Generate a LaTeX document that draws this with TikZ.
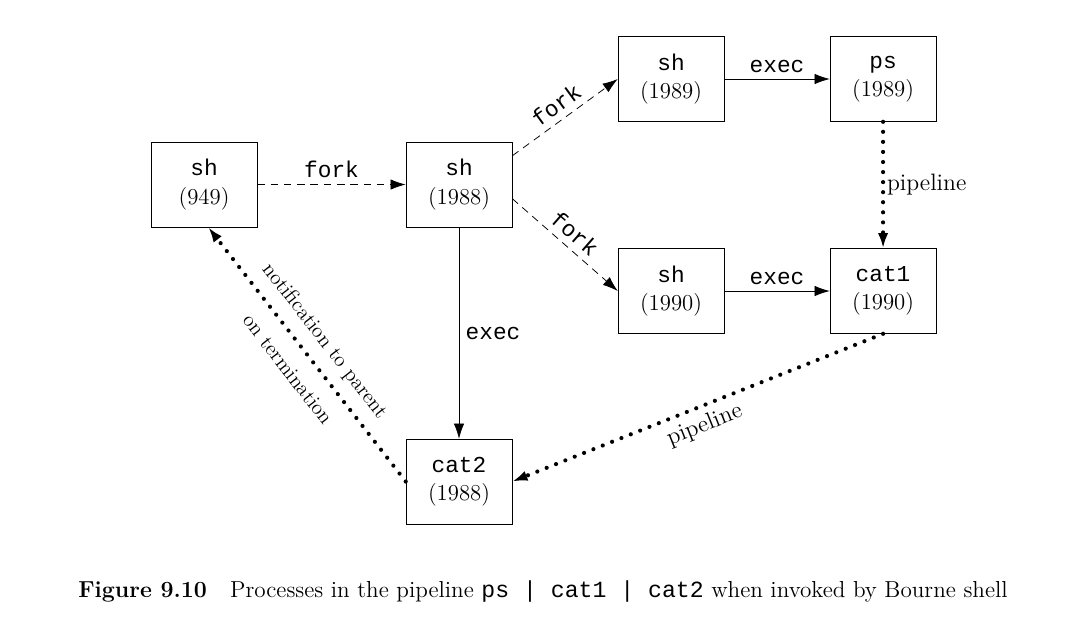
\documentclass[tikz,border=0pt]{standalone}
\usepackage{fontspec}
\setmonofont{Liberation Mono}
\usetikzlibrary{arrows.meta}

\newcommand{\pid}[2]{\texttt{#1}\\(#2)}
\tikzset{
  proc/.style={draw, thin, minimum width=1.96cm, minimum height=1.57cm,
    align=center, font=\fontsize{12}{15}\selectfont},
  tip/.style={-{Latex[length=8pt,width=5.5pt]}},
  forkline/.style={tip, thin, dash pattern=on 4pt off 3pt},
  execline/.style={tip, thin},
  pipeline/.style={tip, line width=2.2pt, line cap=round,
    dash pattern=on 0pt off 5.3pt},
  lbl/.style={font=\fontsize{12}{14}\selectfont},
  pipelbl/.style={font=\fontsize{12.5}{14}\selectfont}
}

\begin{document}
\begin{tikzpicture}
  \useasboundingbox (0,0) rectangle (20,-11.89);
  % processes
  \node[proc] (sh949)  at (3.778,-3.417)  {\pid{sh}{949}};
  \node[proc] (sh1988) at (8.500,-3.417)  {\pid{sh}{1988}};
  \node[proc] (sh1989) at (12.427,-1.463) {\pid{sh}{1989}};
  \node[proc] (ps1989) at (16.353,-1.463) {\pid{ps}{1989}};
  \node[proc] (sh1990) at (12.427,-5.389) {\pid{sh}{1990}};
  \node[proc] (cat1)   at (16.353,-5.389) {\pid{cat1}{1990}};
  \node[proc] (cat2)   at (8.500,-8.917)  {\pid{cat2}{1988}};

  % fork and exec
  \draw[forkline] (sh949) -- node[lbl, above] {\texttt{fork}} (sh1988);
  \draw[forkline] ([yshift=-0.26cm]sh1988.north east) -- node[lbl, above, sloped] {\texttt{fork}} (sh1989.west);
  \draw[forkline] ([yshift=0.53cm]sh1988.south east) -- node[lbl, above, sloped] {\texttt{fork}} (sh1990.west);
  \draw[execline] (sh1989) -- node[lbl, above] {\texttt{exec}} (ps1989);
  \draw[execline] (sh1990) -- node[lbl, above] {\texttt{exec}} (cat1);
  \draw[execline] (sh1988) -- node[lbl, right] {\texttt{exec}} (cat2);

  % pipes
  \draw[pipeline] (ps1989) -- node[pipelbl, right, inner sep=1pt] {pipeline} (cat1);
  \draw[pipeline] (cat1.south) -- node[pipelbl, below, sloped] {pipeline} (cat2.east);
  \draw[pipeline] (cat2.west) -- node[sloped, align=center, font=\fontsize{11}{14}\selectfont]
       {notification to parent\\[11pt]on termination} ([xshift=0.08cm]sh949.south);

  \node[font=\fontsize{12.2}{14}\selectfont] (caption) at (10.056,-10.96)
       {\textbf{Figure 9.10}\quad Processes in the pipeline \texttt{ps | cat1 | cat2} when invoked by Bourne shell};
\end{tikzpicture}
\end{document}
